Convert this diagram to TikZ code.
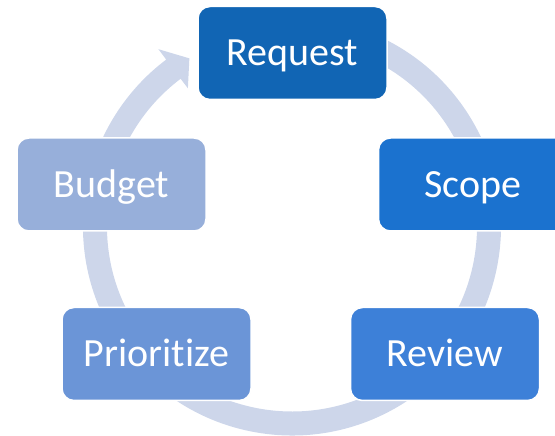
\documentclass[tikz,border=0pt]{standalone}
\usepackage{fontspec}
\setmainfont[Ligatures=NoCommon]{Carlito}
\usetikzlibrary{calc}
\definecolor{RequestClr}{HTML}{1165B4}
\definecolor{ScopeClr}{HTML}{1B72CF}
\definecolor{ReviewClr}{HTML}{3D80D8}
\definecolor{PrioritizeClr}{HTML}{6B95D7}
\definecolor{BudgetClr}{HTML}{97AFDA}
\definecolor{RingClr}{HTML}{CDD6EA}

\begin{document}
\begin{tikzpicture}[x=1pt,y=1pt,
  stage/.style={rounded corners=12pt,draw=white,line width=1.5pt,text=white,
    minimum width=189pt,minimum height=93pt,inner sep=0pt,
    font=\fontsize{40}{48}\selectfont,text height=26pt,text depth=0pt}]
\useasboundingbox (0,0) rectangle (555,436);

\coordinate (O) at (292,209.5);
\fill[RingClr] ($(O)+(80:209)$) arc[start angle=80,end angle=-233,radius=209]
  -- ($(O)+(-233:222)$) -- ($(O)+(-238.6:197)$) -- ($(O)+(-233:173)$)
  -- ($(O)+(-233:185)$) arc[start angle=-233,end angle=80,radius=185] -- cycle;

\node[stage,fill=RequestClr] (request) at (292.5,383) {Request};
\node[stage,fill=ScopeClr] (scope) at (473,251.5) {Scope};
\node[stage,fill=ReviewClr] (review) at (445,82) {Review};
\node[stage,fill=PrioritizeClr] (prioritize) at (156.5,82) {Prioritize};
\node[stage,fill=BudgetClr] (budget) at (111.5,251.5) {Budget};

\end{tikzpicture}
\end{document}
